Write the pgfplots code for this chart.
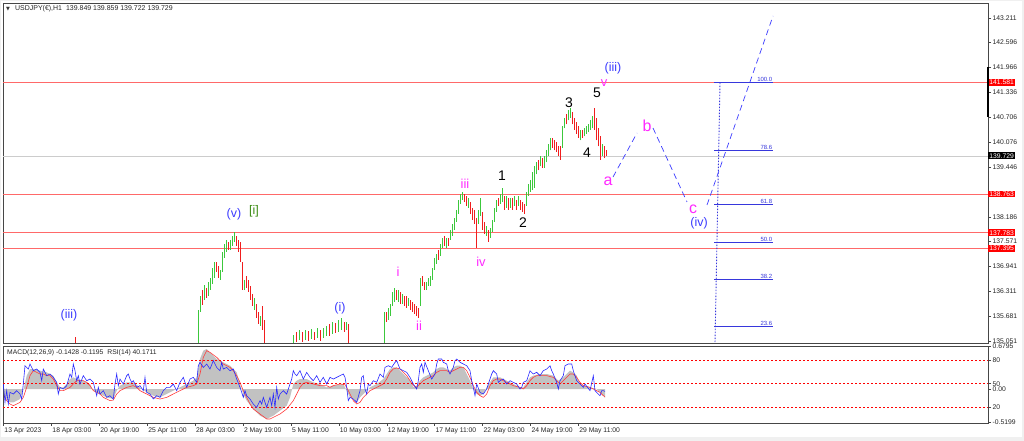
\documentclass[border=0pt]{standalone}
\usepackage{pgfplots}
\pgfplotsset{compat=1.18}
\usepackage{pgfplotstable}
\usepackage{fontspec}
\setmainfont{Liberation Sans}
\newfontfamily\dejavu{DejaVu Sans}
\definecolor{candleG}{RGB}{60,200,60}
\definecolor{candleR}{RGB}{240,30,30}
\definecolor{lvlred}{RGB}{255,105,105}
\definecolor{wblue}{RGB}{60,60,255}
\definecolor{wmag}{RGB}{255,40,255}
\definecolor{wgreen}{RGB}{60,140,20}
\definecolor{fibblue}{RGB}{55,55,220}
\definecolor{frame}{RGB}{70,70,70}
\definecolor{rsiblue}{RGB}{40,40,255}
\definecolor{sigred}{RGB}{255,60,60}

% bullish candles: time index, low, high
\pgfplotstableread{
x lo hi
198 134.952 135.836
200 135.785 136.189
204 136.088 136.467
208 136.189 136.543
210 136.341 136.644
212 136.492 136.896
214 136.644 137.048
220 136.593 136.846
222 136.795 137.300
224 137.149 137.502
226 137.300 137.603
230 137.351 137.603
232 137.452 137.704
234 137.553 137.805
244 136.341 136.593
254 135.836 136.139
260 135.432 135.684
293 134.952 135.204
299 135.078 135.331
305 135.078 135.331
311 135.103 135.356
317 135.129 135.381
323 135.129 135.381
326 135.179 135.432
332 135.230 135.533
338 135.280 135.583
341 135.331 135.634
346 135.331 135.533
384 134.952 135.785
388 135.583 135.886
390 135.684 135.987
392 135.937 136.290
394 136.038 136.391
398 136.038 136.341
402 135.987 136.240
408 135.937 136.139
420 135.937 136.644
426 136.341 136.543
428 136.442 136.644
430 136.442 136.694
432 136.593 136.896
434 136.846 137.149
436 136.997 137.250
440 137.199 137.502
442 137.401 137.654
446 137.401 137.654
450 137.603 137.856
452 137.704 138.008
454 137.856 138.159
456 138.058 138.361
458 138.260 138.614
460 138.513 138.765
462 138.614 138.816
468 138.412 138.664
478 138.008 138.361
480 138.210 138.664
486 137.704 137.957
490 137.654 137.906
492 137.805 138.109
494 138.058 138.412
496 138.311 138.614
500 138.513 138.765
502 138.563 138.917
506 138.412 138.715
510 138.412 138.664
514 138.462 138.715
518 138.462 138.715
526 138.462 138.816
528 138.715 139.018
530 138.816 139.119
532 138.866 139.321
534 138.917 139.472
536 139.270 139.573
540 139.472 139.725
544 139.422 139.725
546 139.573 139.876
548 139.725 140.028
550 139.876 140.180
562 139.927 140.483
564 140.432 140.685
568 140.634 140.887
570 140.685 140.938
580 140.129 140.382
584 140.230 140.432
586 140.281 140.483
588 140.331 140.533
590 140.382 140.634
592 140.432 140.736
602 139.725 140.028
}\upT

% bearish candles: time index, low, high
\pgfplotstableread{
x lo hi
75 134.900 135.154
202 135.962 136.341
206 136.139 136.391
216 136.795 137.048
218 136.644 136.947
228 137.351 137.553
236 137.452 137.704
238 137.300 137.603
240 137.048 137.553
242 136.341 137.048
246 136.391 136.694
248 136.290 136.593
250 136.088 136.442
252 135.937 136.240
256 135.634 135.987
258 135.482 135.785
262 135.331 135.937
264 134.952 135.583
296 135.028 135.280
302 135.028 135.280
308 135.053 135.306
314 135.078 135.280
320 135.053 135.331
329 135.179 135.482
335 135.255 135.508
344 135.280 135.533
348 134.952 135.482
386 135.533 135.785
396 136.088 136.341
400 135.987 136.290
404 135.937 136.189
406 135.886 136.189
410 135.836 136.088
412 135.785 136.038
414 135.735 135.987
416 135.684 135.937
418 135.634 135.886
422 136.442 136.694
424 136.341 136.543
438 137.098 137.351
444 137.452 137.704
448 137.452 137.654
464 138.563 138.765
466 138.462 138.715
470 138.260 138.563
472 138.109 138.412
474 138.008 138.361
476 137.401 138.159
482 137.856 138.311
484 137.755 138.058
488 137.553 137.856
498 138.462 138.664
504 138.361 138.715
508 138.361 138.664
512 138.361 138.664
516 138.361 138.614
520 138.361 138.614
522 138.311 138.563
524 138.260 138.513
538 139.371 139.624
542 139.422 139.674
552 139.927 140.180
554 139.876 140.129
556 139.826 140.079
558 139.725 139.977
560 139.624 139.977
566 140.533 140.786
572 140.533 140.837
574 140.382 140.685
576 140.281 140.584
578 140.180 140.483
582 140.180 140.382
594 140.382 140.938
596 140.129 140.685
598 139.977 140.432
600 139.624 140.230
604 139.674 139.977
606 139.725 139.876
}\dnT

\pgfplotsset{candle/.style={only marks, mark=*, mark size=0pt, mark options={draw=none, fill=none}, forget plot,
  error bars/.cd, y dir=plus, y explicit, error mark=none,
  error bar style={#1, line width=0.95bp}}}

\begin{document}
\begin{tikzpicture}
\fill[black!6] (0bp,0bp) rectangle (1024bp,441bp);
\fill[white] (1bp,4bp) rectangle (1022bp,440bp);

% ---------------- main price panel ----------------
\begin{axis}[
  at={(3bp,98bp)}, anchor=south west, scale only axis,
  width=985bp, height=340bp,
  xmin=3, xmax=988, ymin=135.001, ymax=143.590,
  axis line style={frame, line width=0.8pt},
  xtick=\empty,
  ytick pos=right, yticklabel pos=right,
  ytick={143.211,142.596,141.966,141.336,140.706,140.076,139.446,138.186,137.571,136.941,136.311,135.681,135.051},
  yticklabels={143.211,142.596,141.966,141.336,140.706,140.076,139.446,138.186,137.571,136.941,136.311,135.681,135.051},
  tick align=outside, major tick length=3bp,
  tick style={frame, line width=0.5pt},
  yticklabel style={font=\fontsize{6.8}{7}\selectfont, anchor=west, inner xsep=1.5pt, text=black!85},
  clip mode=individual,
]
% horizontal levels
\addplot[gray!40, line width=0.5pt] coordinates {(3,139.729)(988,139.729)};
\addplot[lvlred, line width=0.9pt] coordinates {(3,141.581)(988,141.581)};
\addplot[lvlred, line width=0.9pt] coordinates {(3,138.763)(988,138.763)};
\addplot[lvlred, line width=0.9pt] coordinates {(3,137.783)(988,137.783)};
\addplot[lvlred, line width=0.9pt] coordinates {(3,137.395)(988,137.395)};

% candles
\addplot[candle=candleG] table[x=x, y=lo, y error plus expr=\thisrow{hi}-\thisrow{lo}] {\upT};
\addplot[candle=candleR] table[x=x, y=lo, y error plus expr=\thisrow{hi}-\thisrow{lo}] {\dnT};

% fibonacci levels
\addplot[fibblue, line width=0.7pt] coordinates {(714,141.580)(773,141.580)};
\addplot[fibblue, line width=0.7pt] coordinates {(714,139.855)(773,139.855)};
\addplot[fibblue, line width=0.7pt] coordinates {(714,138.501)(773,138.501)};
\addplot[fibblue, line width=0.7pt] coordinates {(714,137.550)(773,137.550)};
\addplot[fibblue, line width=0.7pt] coordinates {(714,136.599)(773,136.599)};
\addplot[fibblue, line width=0.7pt] coordinates {(714,135.422)(773,135.422)};
\addplot[fibblue, dash pattern=on 1.5bp off 1.5bp, line width=0.9pt] coordinates {(720,141.580)(715,135.0)};

% projected path
\addplot[wblue, dash pattern=on 6bp off 4bp, line width=0.7pt] coordinates {(613,139.194)(637,140.306)};
\addplot[wblue, dash pattern=on 6bp off 4bp, line width=0.7pt] coordinates {(653,140.432)(687,138.563)};
\addplot[wblue, dash pattern=on 6bp off 4bp, line width=0.7pt] coordinates {(707,138.487)(773,143.262)};

% fib labels
\begin{scope}[every node/.style={fibblue, font=\fontsize{6}{6}\selectfont, anchor=south east, inner sep=0.6pt}]
\node at (axis cs:773,141.580) {100.0};
\node at (axis cs:773,139.855) {78.6};
\node at (axis cs:773,138.501) {61.8};
\node at (axis cs:773,137.550) {50.0};
\node at (axis cs:773,136.599) {38.2};
\node at (axis cs:773,135.422) {23.6};
\end{scope}

% wave labels
\begin{scope}[every node/.style={inner sep=0pt}]
\node[wblue, font=\fontsize{12.5}{13}\selectfont] at (axis cs:69,135.709) {(iii)};
\node[wblue, font=\fontsize{12.5}{13}\selectfont] at (axis cs:234,138.260) {(v)};
\node[wgreen, font=\fontsize{12.5}{13}\selectfont] at (axis cs:254,138.336) {[i]};
\node[wblue, font=\fontsize{12.5}{13}\selectfont] at (axis cs:340,135.886) {(i)};
\node[wmag, font=\fontsize{13}{13}\selectfont] at (axis cs:398,136.795) {i};
\node[wmag, font=\fontsize{13}{13}\selectfont] at (axis cs:419,135.432) {ii};
\node[wmag, font=\fontsize{13}{13}\selectfont] at (axis cs:465,139.018) {iii};
\node[wmag, font=\fontsize{13}{13}\selectfont] at (axis cs:481,137.048) {iv};
\node[black, font=\fontsize{14}{14}\selectfont] at (axis cs:502,139.220) {1};
\node[black, font=\fontsize{14}{14}\selectfont] at (axis cs:523,138.033) {2};
\node[black, font=\fontsize{14}{14}\selectfont] at (axis cs:569,141.064) {3};
\node[black, font=\fontsize{14}{14}\selectfont] at (axis cs:587,139.801) {4};
\node[black, font=\fontsize{14}{14}\selectfont] at (axis cs:597,141.317) {5};
\node[wmag, font=\fontsize{13}{13}\selectfont] at (axis cs:604,141.569) {v};
\node[wblue, font=\fontsize{12.5}{13}\selectfont] at (axis cs:613,141.948) {(iii)};
\node[wmag, font=\fontsize{16}{16}\selectfont] at (axis cs:608,139.093) {a};
\node[wmag, font=\fontsize{16}{16}\selectfont] at (axis cs:647,140.483) {b};
\node[wmag, font=\fontsize{16}{16}\selectfont] at (axis cs:693,138.386) {c};
\node[wblue, font=\fontsize{12.5}{13}\selectfont] at (axis cs:699,138.033) {(iv)};
\end{scope}

% price boxes on the scale
\begin{scope}[every node/.style={anchor=west, inner xsep=1.2pt, inner ysep=1pt, text=white, font=\fontsize{6.8}{7}\selectfont}]
\node[fill=red] at (axis cs:988,141.581) {141.581};
\node[fill=red] at (axis cs:988,138.763) {138.763};
\node[fill=red] at (axis cs:988,137.783) {137.783};
\node[fill=red] at (axis cs:988,137.395) {137.395};
\node[fill=black] at (axis cs:988,139.729) {139.729};
\end{scope}
\draw[black, line width=1.6pt] (axis cs:988,141.966) -- (axis cs:988,140.706);
\end{axis}

% ---------------- MACD (histogram + signal) ----------------
\begin{axis}[
  at={(3bp,18bp)}, anchor=south west, scale only axis,
  width=985bp, height=77bp,
  xmin=3, xmax=988, ymin=-0.537, ymax=0.6795,
  axis line style={draw=none}, xtick=\empty,
  ytick={0.6795,0,-0.5199}, yticklabels={0.6795,0.00,-0.5199},
  ytick pos=right, yticklabel pos=right,
  tick align=outside, major tick length=3bp,
  tick style={frame, line width=0.5pt},
  yticklabel style={font=\fontsize{6.8}{7}\selectfont, anchor=west, inner xsep=1.5pt, text=black!85},
  clip mode=individual,
]
\addplot[fill=gray!48, draw=none] coordinates {
(3.3,-0.079)(6.7,-0.158)(10,-0.211)(13.3,-0.211)(16.7,-0.184)(20,-0.158)(23.3,-0.026)(26.7,0.211)(30,0.316)(33.3,0.316)(40,0.290)(46.7,0.263)(53.3,0.211)(56.7,0.105)(60,0.026)(63.3,0.026)(66.7,0.079)(70,0.158)(73.3,0.184)(76.7,0.158)(83.3,0.132)(90,0.079)(93.3,-0.026)(100,-0.079)(106.7,-0.132)(113.3,-0.158)(116.7,-0.026)(120,0.053)(126.7,0.105)(133.3,0.105)(140,0.026)(146.7,-0.053)(153.3,-0.105)(160,-0.132)(166.7,-0.079)(173.3,-0.026)(180,0.026)(186.7,0.079)(193.3,0.132)(196.7,0.184)(200,0.474)(203.3,0.606)(206.7,0.632)(210,0.579)(216.7,0.474)(223.3,0.421)(230,0.369)(236.7,0.263)(240,0.079)(243.3,-0.079)(246.7,-0.184)(253.3,-0.316)(260,-0.421)(266.7,-0.474)(273.3,-0.421)(280,-0.342)(286.7,-0.263)(290,-0.132)(293.3,0.079)(296.7,0.132)(300,0.158)(306.7,0.158)(313.3,0.105)(320,0.079)(326.7,0.026)(333.3,0.053)(343.3,0.079)(346.7,-0.026)(350,-0.132)(353.3,-0.158)(356.7,-0.211)(360,-0.132)(363.3,-0.079)(366.7,-0.026)(370,0.026)(376.7,0.079)(383.3,0.158)(386.7,0.237)(390,0.316)(393.3,0.342)(396.7,0.342)(400,0.290)(403.3,0.237)(406.7,0.184)(410,0.132)(413.3,0.026)(416.7,0.053)(420,0.132)(423.3,0.184)(426.7,0.211)(430,0.237)(433.3,0.263)(436.7,0.316)(440,0.342)(443.3,0.342)(446.7,0.316)(450,0.290)(453.3,0.342)(456.7,0.369)(460,0.369)(463.3,0.342)(466.7,0.237)(470,0.132)(473.3,0)(476.7,-0.079)(480,-0.105)(483.3,-0.079)(486.7,0.026)(490,0.105)(493.3,0.184)(500,0.184)(506.7,0.132)(513.3,0.079)(520,0.026)(523.3,0.026)(526.7,0.105)(530,0.184)(533.3,0.211)(540,0.237)(546.7,0.237)(553.3,0.211)(558.3,0.132)(563.3,0.184)(566.7,0.237)(570,0.290)(573.3,0.263)(576.7,0.211)(580,0.079)(583.3,0.053)(590,0.026)(596.7,0)(600,-0.053)(603.3,-0.105)(605,-0.143)
} \closedcycle;
\addplot[sigred, line width=0.6pt] coordinates {
(3.3,-0.079)(6.7,-0.184)(10,-0.237)(13.3,-0.263)(16.7,-0.237)(20,-0.211)(23.3,-0.132)(26.7,0.026)(30,0.211)(33.3,0.290)(36.7,0.263)(40,0.237)(43.3,0.237)(46.7,0.211)(50,0.211)(53.3,0.158)(56.7,0.053)(60,-0.026)(63.3,-0.026)(66.7,0)(70,0.026)(73.3,0.079)(76.7,0.132)(80,0.132)(83.3,0.132)(86.7,0.105)(90,0.053)(93.3,-0.026)(96.7,-0.053)(100,-0.079)(103.3,-0.132)(106.7,-0.158)(110,-0.184)(113.3,-0.174)(116.7,-0.079)(120,-0.026)(126.7,0.026)(133.3,0.053)(136.7,0.026)(140,-0.026)(143.3,-0.053)(146.7,-0.079)(153.3,-0.132)(160,-0.158)(166.7,-0.132)(173.3,-0.079)(180,-0.026)(186.7,0.026)(193.3,0.053)(196.7,0.079)(200,0.237)(203.3,0.500)(206.7,0.606)(210,0.579)(216.7,0.500)(223.3,0.395)(230,0.342)(233.3,0.290)(236.7,0.211)(240,0.105)(243.3,-0.026)(246.7,-0.132)(250,-0.237)(253.3,-0.316)(260,-0.395)(266.7,-0.474)(270,-0.474)(273.3,-0.448)(280,-0.395)(286.7,-0.316)(293.3,-0.184)(296.7,-0.079)(300,0.026)(303.3,0.090)(306.7,0.105)(313.3,0.079)(320,0.053)(326.7,0.053)(330,0.026)(333.3,0.053)(340,0.079)(345,0.068)(346.7,0.026)(350,-0.079)(353.3,-0.184)(356.7,-0.237)(360,-0.211)(363.3,-0.132)(366.7,-0.079)(370,-0.026)(376.7,0.026)(383.3,0.079)(386.7,0.158)(390,0.263)(393.3,0.316)(396.7,0.332)(400,0.316)(403.3,0.263)(406.7,0.211)(410,0.132)(413.3,0.053)(416.7,0.026)(420,0.079)(423.3,0.132)(426.7,0.158)(430,0.184)(433.3,0.211)(436.7,0.263)(440,0.290)(446.7,0.290)(450,0.263)(453.3,0.290)(456.7,0.316)(460,0.342)(463.3,0.342)(466.7,0.290)(470,0.184)(473.3,0.053)(476.7,-0.053)(480,-0.105)(483.3,-0.132)(486.7,-0.079)(490,0.053)(493.3,0.132)(496.7,0.158)(500,0.158)(506.7,0.105)(513.3,0.053)(520,0.026)(523.3,0)(526.7,0.053)(530,0.132)(533.3,0.184)(536.7,0.211)(540,0.211)(546.7,0.211)(553.3,0.184)(560,0.079)(563.3,0.132)(566.7,0.184)(570,0.237)(573.3,0.237)(576.7,0.184)(580,0.105)(583.3,0.053)(590,0.026)(596.7,-0.026)(600,-0.053)(603.3,-0.105)(605,-0.120)
};
\end{axis}

% ---------------- RSI panel ----------------
\begin{axis}[
  at={(3bp,18bp)}, anchor=south west, scale only axis,
  width=985bp, height=77bp,
  xmin=3, xmax=988, ymin=0.2, ymax=97.8,
  axis line style={frame, line width=0.8pt},
  ytick={80,50,20}, yticklabels={80,50,20},
  ytick pos=right, yticklabel pos=right,
  xtick pos=bottom,
  xtick={3.5,51.5,99.4,147.3,195.2,243.1,291,338.9,386.8,434.7,482.6,530.5,578.4},
  xticklabels={13 Apr 2023,18 Apr 03:00,20 Apr 19:00,25 Apr 11:00,28 Apr 03:00,2 May 19:00,5 May 11:00,10 May 03:00,12 May 19:00,17 May 11:00,22 May 03:00,24 May 19:00,29 May 11:00},
  tick align=outside, major tick length=3bp,
  tick style={frame, line width=0.5pt},
  yticklabel style={font=\fontsize{6.8}{7}\selectfont, anchor=west, inner xsep=1.5pt, text=black!85},
  xticklabel style={font=\fontsize{6.8}{7}\selectfont, anchor=north west, inner xsep=0.8pt, inner ysep=1.5pt, text=black!85},
  clip mode=individual,
]
\addplot[red, dash pattern=on 2bp off 2bp, line width=0.5pt] coordinates {(3,80)(988,80)};
\addplot[red, dash pattern=on 2bp off 2bp, line width=0.5pt] coordinates {(3,50)(988,50)};
\addplot[red, dash pattern=on 2bp off 2bp, line width=0.5pt] coordinates {(3,20)(988,20)};
\addplot[rsiblue, line width=0.6pt] coordinates {
(3.3,49.6)(5,26.4)(6.7,41.2)(8.3,24.2)(10,39.0)(13.3,36.9)(16.7,41.2)(20,36.9)(21.7,30.6)(23.3,49.6)(25,72.8)(28.3,68.6)(30,75.0)(31.7,70.7)(33.3,66.5)(36.7,68.6)(40,64.4)(41.7,53.8)(43.3,68.6)(46.7,60.2)(50,62.3)(53.3,58.1)(56.7,51.7)(58.3,36.9)(60,45.4)(63.3,43.3)(66.7,47.5)(70,62.3)(71.7,58.1)(73.3,75.0)(75,66.5)(76.7,53.8)(78.3,60.2)(80,49.6)(83.3,60.2)(86.7,53.8)(90,55.9)(93.3,51.7)(96.7,34.8)(98.3,45.4)(100,36.9)(103.3,41.2)(106.7,32.7)(110,34.8)(113.3,30.6)(115,49.6)(116.7,62.3)(118.3,47.5)(120,55.9)(123.3,49.6)(126.7,60.2)(128.3,62.3)(130,55.9)(131.7,51.7)(133.3,53.8)(136.7,45.4)(140,47.5)(143.3,41.2)(145,58.1)(146.7,39.0)(150,36.9)(153.3,30.6)(156.7,34.8)(160,32.7)(163.3,41.2)(166.7,45.4)(170,45.4)(173.3,49.6)(176.7,41.2)(180,51.7)(183.3,58.1)(186.7,45.4)(190,55.9)(193.3,58.1)(196.7,51.7)(198.3,72.8)(200,77.1)(203.3,70.7)(206.7,75.0)(210,68.6)(213.3,79.2)(216.7,70.7)(220,66.5)(221.7,77.1)(223.3,68.6)(226.7,70.7)(230,66.5)(233.3,68.6)(236.7,55.9)(240,45.4)(241.7,39.0)(243.3,32.7)(245,41.2)(246.7,34.8)(250,30.6)(253.3,24.2)(256.7,20.0)(260,28.5)(261.7,24.2)(263.3,32.7)(266.7,20.0)(268.3,26.4)(270,32.7)(271.7,22.1)(273.3,36.9)(275,20.0)(276.7,45.4)(278.3,30.6)(280,36.9)(283.3,41.2)(286.7,36.9)(290,49.6)(291.7,55.9)(293.3,66.5)(295,62.3)(296.7,60.2)(300,66.5)(303.3,55.9)(306.7,64.4)(310,58.1)(313.3,53.8)(316.7,60.2)(320,51.7)(323.3,58.1)(326.7,49.6)(330,58.1)(333.3,55.9)(336.7,58.1)(340,60.2)(343.3,62.3)(345,58.1)(346.7,45.4)(348.3,28.5)(350,32.7)(353.3,30.6)(356.7,26.4)(360,41.2)(361.7,58.1)(363.3,60.2)(365,43.3)(366.7,36.9)(368.3,49.6)(370,47.5)(373.3,53.8)(376.7,51.7)(380,62.3)(383.3,58.1)(385,70.7)(388.3,72.8)(391.7,70.7)(395,77.1)(396.7,79.2)(400,68.6)(403.3,66.5)(406.7,64.4)(410,58.1)(413.3,49.6)(416.7,43.3)(418.3,53.8)(420,70.7)(421.7,75.0)(423.3,64.4)(425,77.1)(428.3,66.5)(431.7,55.9)(435,62.3)(436.7,75.0)(438.3,81.3)(441.7,81.3)(443.3,77.1)(446.7,75.0)(448.3,66.5)(450,62.3)(453.3,70.7)(455,79.2)(456.7,81.3)(460,77.1)(463.3,75.0)(466.7,72.8)(470,66.5)(471.7,53.8)(473.3,45.4)(475,34.8)(476.7,49.6)(480,39.0)(483.3,36.9)(486.7,43.3)(490,55.9)(491.7,62.3)(493.3,66.5)(496.7,62.3)(498.3,51.7)(500,53.8)(503.3,55.9)(506.7,49.6)(510,53.8)(513.3,51.7)(516.7,49.6)(520,43.3)(521.7,45.4)(523.3,51.7)(526.7,53.8)(530,66.5)(533.3,62.3)(536.7,64.4)(540,60.2)(543.3,66.5)(546.7,68.6)(550,72.8)(551.7,66.5)(553.3,62.3)(556.7,51.7)(558.3,43.3)(560,53.8)(563.3,60.2)(565,72.8)(568.3,75.0)(571.7,75.0)(573.3,66.5)(576.7,53.8)(580,49.6)(583.3,45.4)(585,49.6)(590,41.2)(593.3,60.2)(595,41.2)(598.3,36.9)(600,34.8)(601.7,41.2)(603.3,41.2)(605,40.2)
};
\end{axis}

% header texts
\node[anchor=west, inner sep=0pt, font=\dejavu\fontsize{5}{5}\selectfont, text=black!80] at (6bp,432bp) {▼};
\node[anchor=west, inner sep=0pt, font=\fontsize{7}{8}\selectfont, text=black!85] at (15bp,432bp) {USDJPY(€),H1\hspace{4bp}139.849 139.859 139.722 139.729};
\node[anchor=west, inner sep=0pt, font=\fontsize{6.8}{8}\selectfont, text=black!85] at (7bp,88.5bp) {MACD(12,26,9) -0.1428 -0.1195\hspace{4bp}RSI(14) 40.1711};

\pgfresetboundingbox
\useasboundingbox (0bp,0bp) rectangle (1024bp,441bp);
\end{tikzpicture}
\end{document}
